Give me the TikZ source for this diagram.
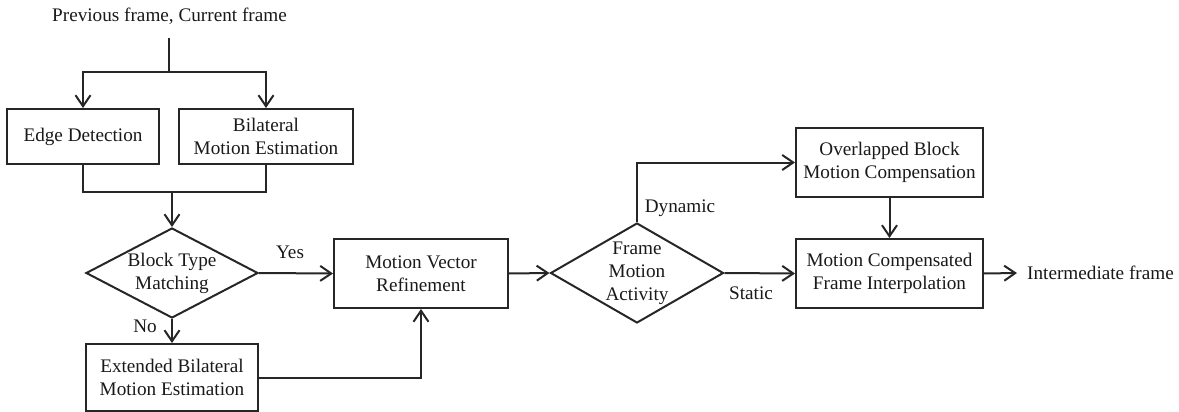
\documentclass[tikz,border=0pt]{standalone}
\usepackage{fontspec}
\setmainfont{Liberation Serif}
\usetikzlibrary{shapes.geometric,arrows.meta}
\begin{document}
\begin{tikzpicture}[x=1pt,y=-1pt,
  every node/.style={font=\fontsize{19.2}{23}\selectfont, text=black!90},
  box/.style={draw=black!85,line width=2pt,rectangle,inner sep=0pt,align=center},
  dia/.style={draw=black!85,line width=2pt,diamond,inner sep=0pt},
  lbl/.style={inner sep=0pt,align=center},
  conn/.style={draw=black!85,line width=2pt},
  arr/.style={conn,-{Straight Barb[length=11pt,width=15pt,line width=2pt]}}]
\useasboundingbox (0,0) rectangle (1179,412);
% nodes
\node[lbl] (in) at (169.5,16) {Previous frame, Current frame};
\coordinate (inbot) at (169,38);
\node[box,minimum width=152pt,minimum height=55pt] (ed) at (83,136.5) {Edge Detection};
\node[box,minimum width=174pt,minimum height=55pt] (bme) at (266,136.5) {Bilateral\\Motion Estimation};
\node[dia,minimum width=172pt,minimum height=90pt] (btm) at (172,273) {};
\node[lbl] (btmtext) at (btm.center) {Block Type\\Matching};
\node[box,minimum width=174pt,minimum height=69pt] (mvr) at (421,273.5) {Motion Vector\\Refinement};
\node[box,minimum width=172pt,minimum height=67pt] (ebme) at (172,377.5) {Extended Bilateral\\Motion Estimation};
\node[dia,minimum width=173pt,minimum height=100pt] (fma) at (637,273) {};
\node[lbl] (fmatext) at (fma.center) {Frame\\Motion\\Activity};
\node[box,minimum width=187pt,minimum height=69pt] (obmc) at (889.5,162.5) {Overlapped Block\\Motion Compensation};
\node[box,minimum width=187pt,minimum height=69pt] (mcfi) at (889.5,273.5) {Motion Compensated\\Frame Interpolation};
\node[lbl,anchor=west] (out) at (1027,273) {Intermediate frame};
% labels
\node[lbl] (yes) at (290,252) {Yes};
\node[lbl] (no) at (145,326) {No};
\node[lbl] (dyn) at (680,208) {Dynamic};
\node[lbl] (sta) at (751,293) {Static};
% connectors
\coordinate (split) at (169,72);
\coordinate (join) at (172,192);
\coordinate (outtip) at (1017,273);
\draw[conn] (inbot) -- (split);
\draw[arr] (split) -| (ed.north);
\draw[arr] (split) -| (bme.north);
\draw[conn] (ed.south) |- (join);
\draw[conn] (bme.south) |- (join);
\draw[arr] (join) -- (btm.north);
\draw[arr] (btm.east) -- (mvr.west);
\draw[arr] (btm.south) -- (ebme.north);
\draw[arr] (ebme.east) -| (mvr.south);
\draw[arr] (mvr.east) -- (fma.west);
\draw[arr] (fma.north) |- (obmc.west);
\draw[arr] (fma.east) -- (mcfi.west);
\draw[arr] (obmc.south) -- (mcfi.north);
\draw[arr] (mcfi.east) -- (outtip);
\end{tikzpicture}
\end{document}
